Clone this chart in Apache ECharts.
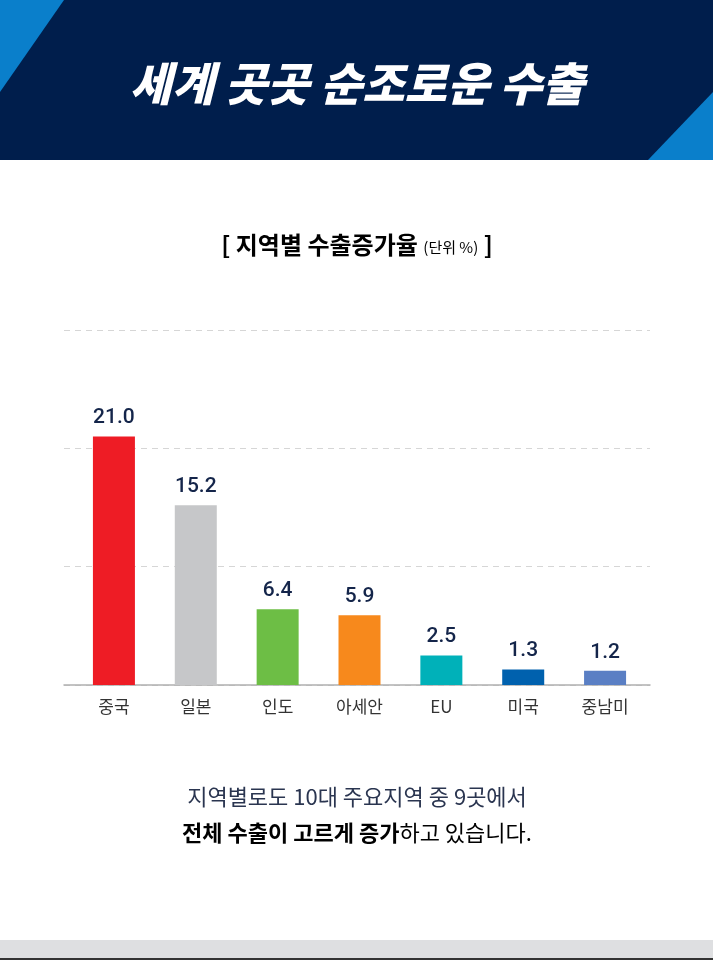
<!DOCTYPE html>
<html><head><meta charset="utf-8">
<script src="https://cdn.jsdelivr.net/npm/echarts@6/dist/echarts.min.js"></script>
<style>html,body{margin:0;padding:0;background:#fff}#c{width:713px;height:960px}</style>
</head><body><div id="c"></div>
<script>
const categories = ['중국','일본','인도','아세안','EU','미국','중남미'];
const values = [21.0, 15.2, 6.4, 5.9, 2.5, 1.3, 1.2];
const barColors = ['#ee1c25','#c6c7c9','#6dbe45','#f7891c','#00b1b9','#0061ae','#5a7fc4'];
const yTicks = [0, 10, 20, 30];
const titleText = '세계 곳곳 순조로운 수출';
const FONT = '"Noto Sans CJK KR", "Noto Sans", sans-serif';

const chart = echarts.init(document.getElementById('c'), null, {renderer:'canvas'});
chart.setOption({
  backgroundColor: '#ffffff',
  animation: false,
  grid: [
    {left: 73, right: 67, top: 330, bottom: 275},
    {left: 64, right: 63, top: 330, bottom: 275}
  ],
  xAxis: [
    {type:'category', gridIndex:0, data: categories, axisLine:{show:false}, axisTick:{show:false},
     axisLabel:{color:'#333333', fontSize:17, fontFamily:FONT, margin:13}},
    {type:'category', gridIndex:1, data: categories, show:true, axisLabel:{show:false}, axisTick:{show:false},
     axisLine:{show:true, lineStyle:{color:'#b0b0b0', width:1.5}}}
  ],
  yAxis: [
    {type:'value', gridIndex:0, min: yTicks[0], max: yTicks[yTicks.length-1], interval: 10, show:false, splitLine:{show:false}},
    {type:'value', gridIndex:1, min: yTicks[0], max: yTicks[yTicks.length-1], interval: 10,
     axisLine:{show:false}, axisTick:{show:false}, axisLabel:{show:false},
     splitLine:{show:true, lineStyle:{color:'#d6d6d6', type:[6,5], width:1}}}
  ],
  series: [{
    type:'bar', xAxisIndex:0, yAxisIndex:0, barWidth: 42,
    data: values.map((v,i)=>({value:v, itemStyle:{color: barColors[i]}})),
    label:{show:true, position:'top', distance:8, color:'#14254a', fontSize:21, fontWeight:500,
      fontFamily:'Roboto, "Noto Sans", sans-serif', formatter: p => p.value.toFixed(1)}
  }],
  graphic: [
    {type:'rect', shape:{x:0,y:0,width:713,height:160}, style:{fill:'#001e4c'}},
    {type:'polygon', shape:{points:[[0,0],[64,0],[0,92]]}, style:{fill:'#0a7fcb'}},
    {type:'polygon', shape:{points:[[713,92],[713,160],[648,160]]}, style:{fill:'#0a7fcb'}},
    {type:'text', x:357, y:84, style:{text:titleText, fill:'#ffffff', font:'italic 900 46px ' + FONT,
      textAlign:'center', textVerticalAlign:'middle'}},
    {type:'text', x:357, y:245, style:{
      text:'{b|[ 지역별 수출증가율 }{s|(단위 %)}{b| ]}',
      textAlign:'center', textVerticalAlign:'middle',
      rich:{b:{fontSize:24, fontWeight:'bold', color:'#14254a', fontFamily:FONT},
            s:{fontSize:15, color:'#14254a', fontFamily:FONT, padding:[4,0,0,0]}}}},
    {type:'text', x:357, y:797, style:{text:'지역별로도 10대 주요지역 중 9곳에서', fill:'#2a3550',
      font:'22px ' + FONT, textAlign:'center', textVerticalAlign:'middle'}},
    {type:'text', x:357, y:833, style:{
      text:'{b|전체 수출이 고르게 증가}{n|하고 있습니다.}',
      textAlign:'center', textVerticalAlign:'middle',
      rich:{b:{fontSize:22, fontWeight:'bold', color:'#14254a', fontFamily:FONT},
            n:{fontSize:22, color:'#2a3550', fontFamily:FONT}}}},
    {type:'rect', shape:{x:0,y:940,width:713,height:18}, style:{fill:'#dedfe1'}},
    {type:'rect', shape:{x:0,y:958,width:713,height:2}, style:{fill:'#333333'}}
  ]
});
</script></body></html>
